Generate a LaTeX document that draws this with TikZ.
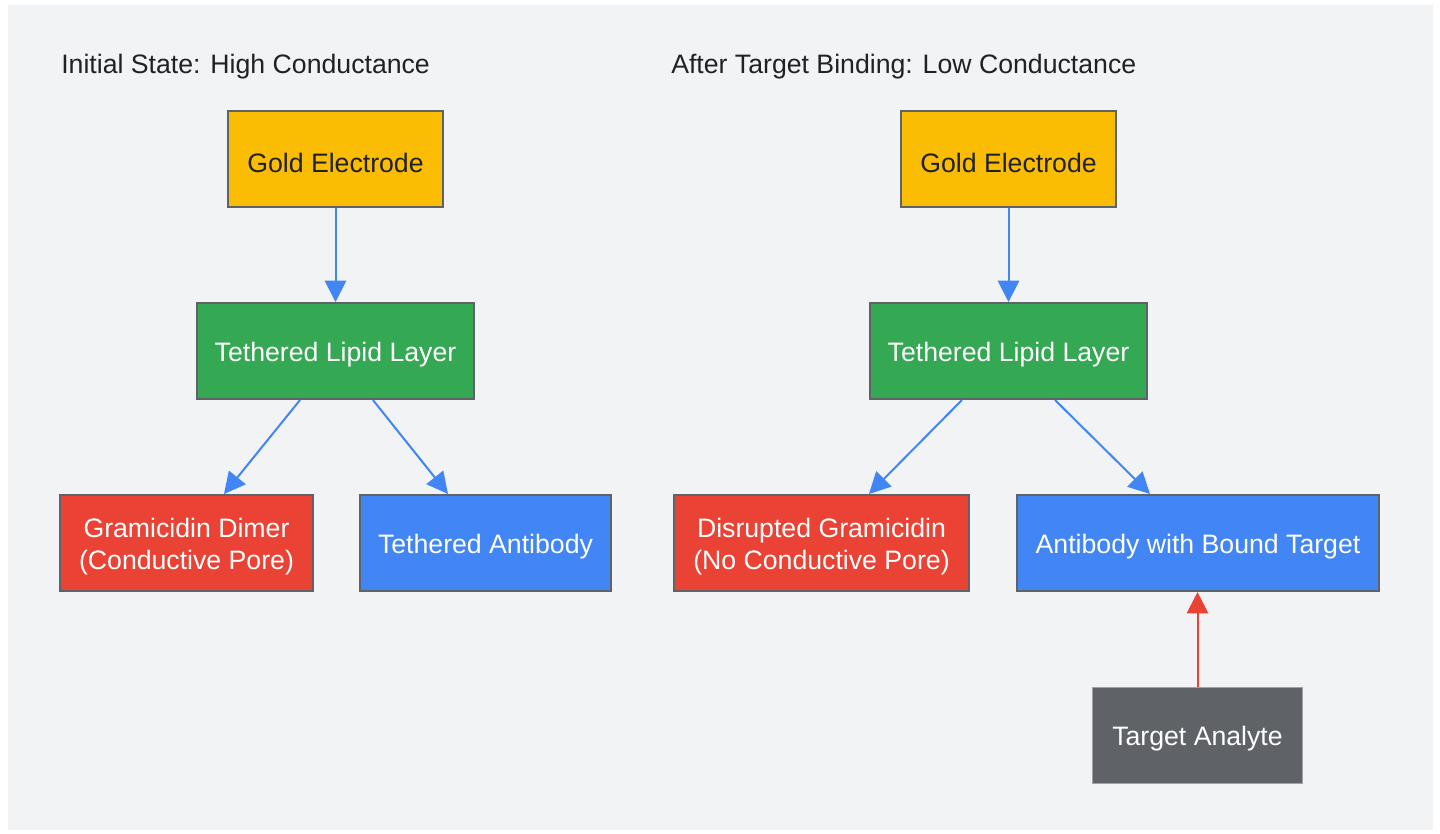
\documentclass[tikz,border=0pt]{standalone}
\usepackage{fontspec}
\setmainfont{Liberation Sans}
\usepackage{xcolor}
\usepackage{tikz}
\usetikzlibrary{positioning}
\usetikzlibrary{calc}
\usetikzlibrary{arrows.meta}
\definecolor{bgGrey}{HTML}{F1F3F4}
\definecolor{gGold}{HTML}{FBBC04}
\definecolor{gGreen}{HTML}{34A853}
\definecolor{gRed}{HTML}{EA4335}
\definecolor{gBlue}{HTML}{4285F4}
\definecolor{gDark}{HTML}{5F6368}
\definecolor{gText}{HTML}{202124}
\tikzstyle{layer} = [draw=gDark, line width=1.5pt, rectangle, inner sep=0pt,
minimum height=72pt, text height=19.8pt, align=center, text=white, font=\fontsize{20}{24}\selectfont]
\tikzstyle{twoline} = [text height=44.6pt]
\tikzstyle{line} = [draw, line width=1.5pt, -{Triangle[length=16pt,width=16pt]}]

\begin{document}
\begin{tikzpicture}[x=0.75pt, y=-0.75pt]
            %% background
            \fill[white] (0,0) rectangle (1440,833);
            \fill[bgGrey] (8,5) rectangle (1433,830);
            \useasboundingbox (0,0) rectangle (1440,833);
            %% Titles
            \node[anchor=west, inner sep=0pt, text=gText, font=\fontsize{20}{24}\selectfont] (tInit) at (61,67) {Initial State: High Conductance};
            \node[anchor=west, inner sep=0pt, text=gText, font=\fontsize{20}{24}\selectfont] (tAfter) at (671,67) {After Target Binding: Low Conductance};
            %% Initial state
            \node[layer, fill=gGold, text=gText, minimum width=161pt] (goldA) at (335.5,159) {Gold Electrode};
            \node[layer, fill=gGreen, minimum width=208pt] (lipidA) at (335.5,351) {Tethered Lipid Layer};
            \node[layer, twoline, fill=gRed, minimum width=190pt] (gramA) at (186.5,543) {Gramicidin Dimer\\(Conductive Pore)};
            \node[layer, fill=gBlue, minimum width=188pt] (abA) at (485.5,543) {Tethered Antibody};
            %% After binding
            \node[layer, fill=gGold, text=gText, minimum width=161pt] (goldB) at (1008.5,159) {Gold Electrode};
            \node[layer, fill=gGreen, minimum width=208pt] (lipidB) at (1008.5,351) {Tethered Lipid Layer};
            \node[layer, twoline, fill=gRed, minimum width=221pt] (gramB) at (821.5,543) {Disrupted Gramicidin\\(No Conductive Pore)};
            \node[layer, fill=gBlue, minimum width=271pt] (abB) at (1198,543) {Antibody with Bound Target};
            \node[layer, fill=gDark, draw=gDark!60!white, line width=0.75pt, minimum width=158pt] (target) at (1197.5,735) {Target Analyte};
            %% Flows (initial)
            \path [line, gBlue] (goldA) to (lipidA);
            \path [line, gBlue] ([xshift=-26.6pt]lipidA.south) to ([xshift=28.1pt]gramA.north);
            \path [line, gBlue] ([xshift=28.1pt]lipidA.south) to ([xshift=-28.1pt]abA.north);
            %% Flows (after)
            \path [line, gBlue] (goldB) to (lipidB);
            \path [line, gBlue] ([xshift=-34.9pt]lipidB.south) to ([xshift=35.6pt]gramB.north);
            \path [line, gBlue] ([xshift=34.9pt]lipidB.south) to ([xshift=-36pt]abB.north);
            \path [line, gRed] (target) to (target |- abB.south);
\end{tikzpicture}
\end{document}
